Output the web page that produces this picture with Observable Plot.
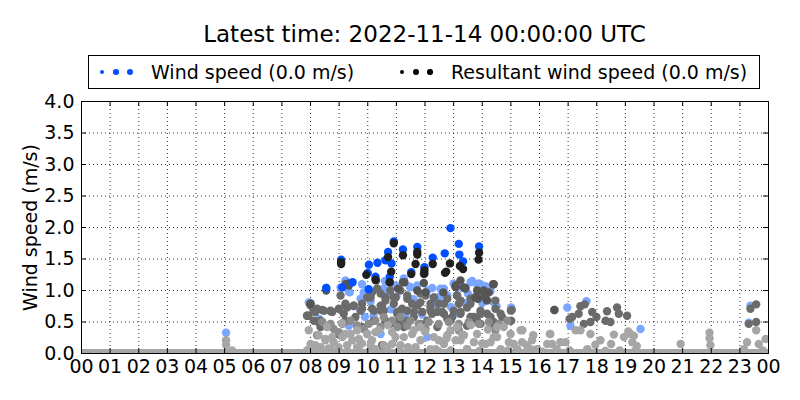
<!DOCTYPE html>
<html><head><meta charset="utf-8">
<script src="https://cdn.jsdelivr.net/npm/d3@7"></script>
<script src="https://cdn.jsdelivr.net/npm/@observablehq/plot@0.6"></script>
<style>
body{margin:0;background:#fff;font-family:"DejaVu Sans",sans-serif;color:#000;}
#head{position:relative;width:800px;height:90px;}
#title{position:absolute;left:81px;width:687px;top:20px;text-align:center;font-size:23px;line-height:28px;}
#legend{position:absolute;left:88px;top:55px;width:670px;height:32px;border:1px solid #000;font-size:19px;}
#legend .t{position:absolute;top:4px;line-height:24px;white-space:nowrap;}
#legend .d{position:absolute;border-radius:50%;}
</style></head>
<body>
<div id="head"><div id="title"></div><div id="legend"></div></div>
<div id="chart"></div>
<script>
const titleText = "Latest time: 2022-11-14 00:00:00 UTC";
const seriesNames = ["Wind speed (0.0 m/s)", "Resultant wind speed (0.0 m/s)"];
const seriesColors = ["#0050ff", "#000000"];
const yLabel = "Wind speed (m/s)";
const xTicks = d3.range(0, 25);
const xTickLabels = ["00","01","02","03","04","05","06","07","08","09","10","11","12","13","14","15","16","17","18","19","20","21","22","23","00"];
const yTicks = [0, 0.5, 1, 1.5, 2, 2.5, 3, 3.5, 4];
const yTickLabels = ["0.0","0.5","1.0","1.5","2.0","2.5","3.0","3.5","4.0"];

// Older days: wind speed (light blue)
const windLightH = [5.05,7.94,8.0,8.55,9.05,9.22,9.34,9.8,9.86,10.33,10.56,10.97,11.26,11.47,11.73,12.08,12.25,12.66,13.0,13.3,13.65,13.88,13.94,14.11,14.23,14.29,9.75,9.75,11.14,13.71,8.7,12.08,9.34,10.45,9.98,12.31,15.01,16.97,17.08,17.64,19.53,23.37,23.31,8.3,10.6,12.5,11.0,13.4,9.5,14.5,9.11,9.37,8.41,11.49,12.31,12.54,12.78,13.59,13.82,14.17,14.4,11.32,10.2,10.8,11.9,10.1,10.7,11.6,12.9,13.5,9.9,11.2,12.4,13.1,14.0];
const windLightV = [0.33,0.81,0.80,1.04,1.05,1.16,0.98,1.10,0.97,1.03,1.03,1.08,1.19,1.06,1.08,1.00,1.04,1.03,1.11,1.04,1.15,1.11,1.10,1.07,1.00,0.99,0.87,0.68,0.68,0.89,0.44,0.26,0.44,0.31,0.31,0.84,0.73,0.73,0.44,0.83,0.39,0.76,0.49,0.55,1.15,0.90,0.90,0.80,0.75,0.75,1.05,0.97,0.50,1.05,0.89,1.03,0.92,1.13,1.10,1.03,0.81,0.63,0.60,0.70,0.62,0.83,0.94,0.86,0.74,0.95,0.58,0.55,0.78,0.64,0.80];

// Older days: resultant wind speed (mid gray)
const resMidH = [8.0,8.12,7.88,8.12,8.35,7.99,8.1,8.41,8.7,7.93,8.27,8.99,9.22,9.51,9.8,9.22,9.57,10.1,10.15,10.5,10.62,10.97,11.2,11.09,10.62,9.8,11.38,11.73,12.19,12.66,13.0,13.47,13.94,14.46,11.38,12.08,12.78,13.82,14.29,12.43,13.24,10.1,10.45,10.91,11.38,11.84,12.31,12.78,13.12,13.59,13.94,14.17,14.46,10.45,11.03,11.61,12.19,12.66,13.24,13.71,14.17,14.69,10.21,10.79,11.26,11.84,12.43,12.89,13.47,13.94,14.4,9.75,9.28,8.7,8.35,8.23,9.63,10.5,15.0,15.01,15.03,16.52,17.05,17.58,17.43,17.37,17.14,17.84,17.99,18.36,18.71,18.77,19.06,18.31,18.48,17.78,17.55,23.57,23.37,23.31,23.57,9.05,9.0,7.88,8.17,8.47,8.76,9.22,9.51,9.8,9.16,10.45,10.62,10.91,10.21,10.56,11.03,10.15,9.98,10.33,10.79,11.14,11.38,13.12,13.18,13.59,12.02,12.19,12.48,11.55,11.84,11.61,11.9,12.25,12.6,12.95,13.24,13.59,13.94,14.29,14.64];
const resMidV = [0.79,0.68,0.60,0.52,0.42,0.77,0.70,0.69,0.67,0.60,0.50,0.71,0.79,0.76,0.79,0.52,0.58,0.89,0.71,0.76,0.89,0.89,0.71,0.52,0.52,0.42,0.68,0.76,0.73,0.79,0.68,0.73,0.68,0.71,0.52,0.52,0.55,0.52,0.47,0.66,0.84,0.97,0.95,0.89,0.87,0.95,0.89,0.87,0.92,0.87,0.92,0.84,0.84,0.68,0.63,0.58,0.68,0.63,0.66,0.58,0.63,0.58,0.52,0.47,0.42,0.47,0.42,0.52,0.44,0.47,0.50,0.68,0.73,0.68,0.52,0.71,0.44,0.13,0.68,0.52,0.69,0.69,0.55,0.78,0.75,0.63,0.58,0.66,0.58,0.67,0.73,0.63,0.60,0.52,0.50,0.50,0.47,0.78,0.71,0.47,0.50,0.92,0.30,0.60,0.66,0.68,0.66,0.76,0.76,0.71,0.63,0.76,0.84,0.79,0.68,0.68,0.66,0.97,0.89,1.03,1.00,1.00,0.92,0.92,0.79,0.79,0.92,0.79,0.79,0.79,0.81,0.66,0.66,0.63,0.66,0.58,0.63,0.58,0.63,0.58,0.63];

// Intermediate days: resultant wind speed (gray)
const resGrayH = [8.41,8.7,8.81,9.11,9.4,9.63,10.04,10.27,10.56,10.85,11.14,11.38,11.49,11.78,12.13,12.48,12.83,13.18,13.53,13.88,14.23,14.58,14.87,8.23,8.99,9.86,10.45,11.03,12.02,13.18,14.46];
const resGrayV = [0.50,0.47,0.39,0.47,0.52,0.44,0.47,0.52,0.58,0.52,0.58,0.44,0.52,0.47,0.50,0.47,0.50,0.47,0.50,0.47,0.50,0.47,0.52,0.29,0.34,0.39,0.42,0.42,0.39,0.37,0.37];

// Oldest days: resultant wind speed (light gray)
const resLightH = [5.05,5.05,5.26,7.88,8.0,7.94,7.94,8.28,8.52,8.76,8.98,9.22,9.46,9.63,9.8,9.98,10.27,10.56,10.97,8.17,8.63,9.33,10.15,8.58,10.39,11.26,11.61,11.84,12.19,12.31,12.66,12.89,13.24,13.47,13.82,14.11,14.4,14.64,11.84,13.12,14.52,15.34,14.99,15.39,15.74,16.38,16.73,16.27,15.22,15.92,17.05,14.75,14.52,17.43,17.78,18.13,17.26,16.91,16.44,16.36,15.78,15.4,15.1,15.69,17.67,19.18,19.24,19.35,18.95,18.5,18.8,19.4,20.93,21.94,21.94,21.97,23.57,23.9,23.66,23.25,23.14,23.8,10.7,11.4,12.0,12.9,13.6,14.2,9.1,8.4,10.0,11.1,12.5,13.9,14.9,16.1,18.3,19.1,9.7,10.85,12.75,13.3,14.0,15.55,16.6,17.95,18.6,19.3,8.52,8.81,9.11,9.4,9.69,10.27,10.85,11.14,8.35,8.7,9.28,9.63,10.1,10.68,11.55,12.48,12.78,13.07,13.36,13.71,14.29,14.93,11.67,12.37,13.47];
const resLightV = [0.21,0.14,0.05,0.05,0.15,0.37,0.06,0.29,0.21,0.26,0.10,0.31,0.21,0.37,0.16,0.31,0.07,0.13,0.26,0.13,0.08,0.02,0.21,0.42,0.37,0.26,0.37,0.21,0.07,0.26,0.15,0.37,0.21,0.07,0.31,0.15,0.26,0.07,0.42,0.42,0.42,0.37,0.31,0.18,0.21,0.31,0.18,0.15,0.07,0.07,0.05,0.42,0.26,0.37,0.31,0.21,0.37,0.18,0.15,0.31,0.29,0.37,0.15,0.07,0.07,0.31,0.18,0.05,0.26,0.15,0.05,0.12,0.15,0.33,0.24,0.13,0.37,0.23,0.15,0.18,0.07,0.05,0.45,0.10,0.35,0.05,0.45,0.38,0.48,0.02,0.02,0.04,0.03,0.04,0.05,0.03,0.04,0.35,0.05,0.15,0.24,0.30,0.16,0.13,0.07,0.14,0.30,0.28,0.23,0.18,0.26,0.31,0.23,0.34,0.34,0.13,0.10,0.07,0.13,0.10,0.13,0.10,0.31,0.21,0.29,0.21,0.29,0.18,0.18,0.18,0.10,0.07,0.07];

// Previous day: resultant wind speed (dark gray)
const resDimH = [9.22,10.29,10.76,11.06,11.28,11.96,11.96,13.07,13.24,13.41,14.4,14.05,13.82,11.23,11.73,12.02,12.64,13.07,13.41,13.85,14.15,14.23,8.55,9.33,14.38,16.52,8.0,9.34,13.07,13.36,13.76,14.11];
const resDimV = [1.10,1.16,1.13,1.03,1.13,1.12,1.26,1.06,1.16,1.04,1.10,1.00,1.00,1.13,1.00,0.97,0.97,1.05,1.03,0.87,0.85,0.97,1.00,1.11,1.10,0.69,0.79,1.08,1.08,1.05,0.89,0.92];

// Latest day: wind speed (blue)
const windH = [9.07,10.04,10.0,10.62,10.71,10.83,10.77,10.91,11.23,11.73,11.98,12.27,12.69,12.89,13.18,13.2,13.33,13.89,11.52,9.47,10.34,10.03,8.55,10.27,9.11];
const windV = [1.49,1.41,1.28,1.48,1.61,1.43,1.22,1.78,1.65,1.69,1.37,1.52,1.59,1.99,1.74,1.57,1.46,1.70,1.29,1.13,1.44,1.02,1.04,1.22,1.05];

// Latest day: resultant wind speed (black)
const resH = [9.07,9.07,9.95,10.27,10.71,10.82,10.77,10.91,11.23,11.73,11.73,11.67,11.98,11.98,12.27,12.74,12.7,12.87,13.22,13.33,13.89,13.87,11.52];
const resV = [1.45,1.42,1.25,1.17,1.53,1.30,1.13,1.75,1.56,1.61,1.57,1.42,1.27,1.32,1.42,1.30,1.28,1.43,1.39,1.34,1.60,1.49,1.26];

const layers = [
  [windLightH, windLightV, "#7aa6ff"],
  [resMidH, resMidV, "#6b6b6b"],
  [resGrayH, resGrayV, "#8c8c8c"],
  [resLightH, resLightV, "#a6a6a6"],
  [resDimH, resDimV, "#555555"],
  [windH, windV, "#0050ff"],
  [resH, resV, "#202020"]
];

document.getElementById("title").textContent = titleText;
const leg = document.getElementById("legend");
function addLegend(x0, textX, color, label, sizes) {
  [0, 14, 28].forEach((dx, k) => {
    const r = sizes[k];
    const s = document.createElement("span");
    s.className = "d";
    s.style.left = (x0 + dx - r) + "px";
    s.style.top = (16 - r) + "px";
    s.style.width = (2*r) + "px"; s.style.height = (2*r) + "px";
    s.style.background = color;
    leg.appendChild(s);
  });
  const t = document.createElement("span");
  t.className = "t"; t.style.left = textX + "px"; t.textContent = label;
  leg.appendChild(t);
}
addLegend(13, 62, seriesColors[0], seriesNames[0], [2.3, 2.8, 3.2]);
addLegend(313, 362, seriesColors[1], seriesNames[1], [2.3, 3.2, 2.8]);

const dotMarks = layers.map(([H, V, c]) =>
  Plot.dot(d3.range(H.length), {x: i => H[i], y: i => V[i], r: 4.2, fill: c, stroke: "none", clip: true})
);

const chart = Plot.plot({
  width: 800, height: 310,
  marginTop: 11, marginLeft: 81, marginRight: 32, marginBottom: 47,
  x: {domain: [0, 24]},
  y: {domain: [0, 4]},
  style: {fontFamily: "DejaVu Sans", fontSize: "19px", color: "#000", background: "#fff", overflow: "visible"},
  marks: [
    Plot.gridX(xTicks, {stroke: "#000", strokeOpacity: 1, strokeDasharray: "1,3", strokeWidth: 0.8}),
    Plot.gridY(yTicks, {stroke: "#000", strokeOpacity: 1, strokeDasharray: "1,3", strokeWidth: 0.8}),
    Plot.ruleY([0], {stroke: "#a6a6a6", strokeWidth: 9, clip: true}),
    ...dotMarks,
    Plot.tickX(xTicks, {x: d => d, insetTop: 247, stroke: "#000"}),
    Plot.tickX(xTicks, {x: d => d, insetBottom: 247, stroke: "#000"}),
    Plot.tickY(yTicks, {y: d => d, insetRight: 682, stroke: "#000"}),
    Plot.tickY(yTicks, {y: d => d, insetLeft: 682, stroke: "#000"}),
    Plot.frame({stroke: "#000"}),
    Plot.axisX({ticks: xTicks, tickFormat: d => xTickLabels[xTicks.indexOf(d)], tickSize: 0, tickPadding: 6, label: null}),
    Plot.axisY({ticks: yTicks, tickFormat: d => yTickLabels[yTicks.indexOf(d)], tickSize: 0, tickPadding: 7, label: null}),
    Plot.text([yLabel], {frameAnchor: "left", rotate: -90, dx: -51, textAnchor: "middle", fontSize: 19})
  ]
});
document.getElementById("chart").appendChild(chart);
</script>
</body></html>
